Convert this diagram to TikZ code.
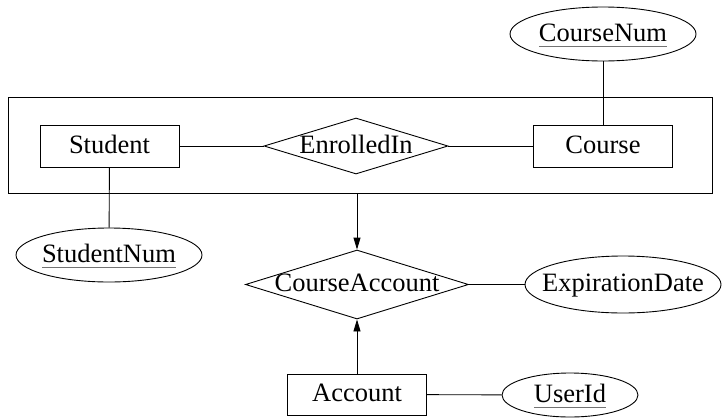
\documentclass[tikz,border=0pt]{standalone}
\usepackage{fontspec}
\setmainfont{Liberation Serif}
\usetikzlibrary{shapes.geometric,arrows.meta}
\newcommand\keyattr[1]{\setbox0\hbox{#1}\rlap{\color{black!55}\rule[-6pt]{\wd0}{1.3pt}}\box0}
\begin{document}
\begin{tikzpicture}[x=1pt,y=-1pt, line width=0.9pt,
  every node/.style={font=\fontsize{26.5}{30}\selectfont, text height=19pt, text depth=5pt, inner sep=0pt},
  entity/.style={draw, rectangle, minimum width=139pt, minimum height=42pt},
  rel/.style={draw, diamond, minimum width=184pt, minimum height=56pt},
  attr/.style={draw, ellipse},
  arr/.style={-{Triangle[length=12pt,width=7pt]}}]
\useasboundingbox (0,0) rectangle (722,418);
% aggregation box
\node[draw, minimum width=704pt, minimum height=96pt] (agg) at (360,145) {};
% entities and relationships
\node[entity] (student) at (109.5,146) {Student};
\node[rel] (enrolled) at (356,146) {\makebox[0pt]{EnrolledIn}};
\node[entity] (course) at (603,146) {Course};
\node[attr, minimum width=186pt, minimum height=54pt] (coursenum) at (603,34) {\makebox[0pt]{\keyattr{CourseNum}}};
\node[attr, minimum width=186pt, minimum height=54pt] (studentnum) at (109,255) {\makebox[0pt]{\keyattr{StudentNum}}};
\node[rel, minimum width=223pt, minimum height=69pt] (cacc) at (357,284.5) {\makebox[0pt]{CourseAccount}};
\node[attr, minimum width=196pt, minimum height=57pt] (exp) at (623,284.5) {\makebox[0pt]{ExpirationDate}};
\node[entity, minimum height=41pt] (account) at (357,394.5) {Account};
\node[attr, minimum width=136pt, minimum height=44pt] (userid) at (570,395) {\makebox[0pt]{\keyattr{UserId}}};
% connectors
\draw (student) -- (enrolled);
\draw (enrolled) -- (course);
\draw (course) -- (coursenum);
\draw (student) -- (studentnum);
\draw[arr] (agg.south -| cacc.north) -- (cacc.north);
\draw[arr] (account) -- (cacc);
\draw (cacc) -- (exp);
\draw (account) -- (userid);
\end{tikzpicture}
\end{document}
